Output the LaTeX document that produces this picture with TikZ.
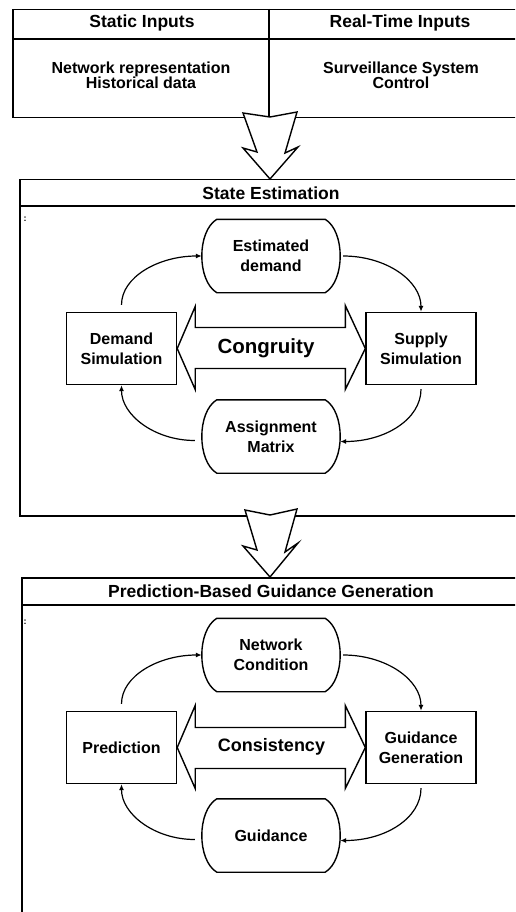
\documentclass[tikz,border=0pt]{standalone}
\usepackage{fontspec}
\setmainfont{Liberation Sans}
\usetikzlibrary{arrows.meta,calc}
\newcommand{\drawbarrel}[1]{%
  \draw[line width=1.4pt]
    ([xshift=15pt]#1.north west) -- ([xshift=-15pt]#1.north east)
    .. controls ([xshift=5pt,yshift=-12pt]#1.north east) and ([xshift=5pt,yshift=12pt]#1.south east) ..
    ([xshift=-15pt]#1.south east) -- ([xshift=15pt]#1.south west)
    .. controls ([xshift=-5pt,yshift=12pt]#1.south west) and ([xshift=-5pt,yshift=-12pt]#1.north west) ..
    cycle;}
\begin{document}
\begin{tikzpicture}[x=1pt,y=-1pt,
  frame/.style={draw, line width=1.5pt, inner sep=0pt, anchor=north west},
  hdr/.style={font=\fontsize{17.5}{19}\selectfont\bfseries, inner sep=0pt},
  txt/.style={font=\fontsize{16}{20}\selectfont\bfseries, align=center, inner sep=0pt},
  toptxt/.style={font=\fontsize{16}{15}\selectfont\bfseries, align=center, inner sep=0pt},
  procbox/.style={draw, line width=1.4pt, minimum width=110pt, minimum height=72pt, txt},
  barrel/.style={minimum width=138pt, minimum height=73pt, txt},
  flow/.style={line width=1.2pt, -{Latex[length=6pt,width=5pt]}},
  bigarrow/.style={draw, line width=1.4pt, line join=miter, fill=white},
  colon/.style={font=\fontsize{9}{9}\selectfont\bfseries, inner sep=0pt}
]
\path[use as bounding box] (0,0) rectangle (515,912);
\clip (0,0) rectangle (515,912);

% ---------- inputs box ----------
\node[frame, minimum width=540pt, minimum height=108pt] (inputs) at (12,9) {};
\draw[line width=1.5pt] ([yshift=-30pt]inputs.north west) -- ([yshift=-30pt]inputs.north east);
\draw[line width=1.5pt] (269,9) -- (269,117);
\node[hdr] (hstat) at (142,23) {Static Inputs};
\node[hdr] (hreal) at (400,23) {Real-Time Inputs};
\node[toptxt] (bstat) at (141,75) {Network representation\\Historical data};
\node[toptxt] (breal) at (401,75) {Surveillance System\\Control};

% ---------- arrow 1 ----------
\draw[bigarrow, shift={(270,179)}] (0,0) -- (-27,-31) -- (-13,-27) -- (-27,-66) -- (0,-62)
  -- (27,-67) -- (15,-26) -- (28,-32) -- cycle;

% ---------- State Estimation ----------
\node[frame, minimum width=540pt, minimum height=336pt] (se) at (19,179) {};
\draw[line width=1.5pt] ([yshift=-27pt]se.north west) -- ([yshift=-27pt]se.north east);
\node[hdr] (setitle) at (271,193) {State Estimation};
\node[colon] (secolon) at (25,219) {:};

\node[barrel] (ed) at (271,256) {Estimated\\demand};
\drawbarrel{ed}
\node[procbox] (ds) at (121.5,348.5) {Demand\\Simulation};
\node[procbox] (ss) at (421,348.5) {Supply\\Simulation};
\node[barrel] (am) at (271,436.5) {Assignment\\Matrix};
\drawbarrel{am}

\draw[bigarrow] (ds.east) -- ($(ds.east)+(18,-42)$) -- ($(ds.east)+(18,-21)$)
  -- ($(ss.west)+(-20,-21)$) -- ($(ss.west)+(-20,-43)$) -- (ss.west)
  -- ($(ss.west)+(-20,41)$) -- ($(ss.west)+(-20,20)$) -- ($(ds.east)+(18,20)$)
  -- ($(ds.east)+(18,41)$) -- cycle;
\node[font=\fontsize{20.5}{24}\selectfont\bfseries, inner sep=0pt] (congr) at (266,348) {Congruity};

\draw[flow] ([yshift=7pt]ds.north) .. controls +(0,-28) and +(-43,0) .. (ed.west);
\draw[flow] ([xshift=3pt]ed.east) .. controls +(43,0) and +(0,-31) .. (ss.north);
\draw[flow] ([yshift=-4pt]ss.south) .. controls +(0,30) and +(45,0) .. ([yshift=-5pt]am.east);
\draw[flow] ([xshift=-7pt,yshift=-4pt]am.west) .. controls +(-40,0) and +(0,30) .. (ds.south);

% ---------- arrow 2 ----------
\draw[bigarrow, shift={(270,577)}] (0,0) -- (-27,-31) -- (-13,-27) -- (-25,-67) -- (0,-62)
  -- (27,-68) -- (15,-25) -- (28,-34) -- cycle;

% ---------- Prediction-Based Guidance Generation ----------
\node[frame, minimum width=540pt, minimum height=400pt] (pg) at (21,577) {};
\draw[line width=1.5pt] ([yshift=-28pt]pg.north west) -- ([yshift=-28pt]pg.north east);
\node[hdr] (pgtitle) at (271,591) {Prediction-Based Guidance Generation};
\node[colon] (pgcolon) at (25,622) {:};

\node[barrel] (nc) at (271,655) {Network\\Condition};
\drawbarrel{nc}
\node[procbox] (pr) at (121.5,747.5) {Prediction};
\node[procbox] (gg) at (421,747.5) {Guidance\\Generation};
\node[barrel] (gd) at (271,835.5) {Guidance};
\drawbarrel{gd}

\draw[bigarrow] (pr.east) -- ($(pr.east)+(18,-42)$) -- ($(pr.east)+(18,-20)$)
  -- ($(gg.west)+(-20,-20)$) -- ($(gg.west)+(-20,-42)$) -- (gg.west)
  -- ($(gg.west)+(-20,41)$) -- ($(gg.west)+(-20,21)$) -- ($(pr.east)+(18,21)$)
  -- ($(pr.east)+(18,41)$) -- cycle;
\node[font=\fontsize{18}{22}\selectfont\bfseries, inner sep=0pt] (consist) at (271.5,747) {Consistency};

\draw[flow] ([yshift=7pt]pr.north) .. controls +(0,-28) and +(-43,0) .. (nc.west);
\draw[flow] ([xshift=3pt]nc.east) .. controls +(43,0) and +(0,-31) .. (gg.north);
\draw[flow] ([yshift=-4pt]gg.south) .. controls +(0,30) and +(45,0) .. ([yshift=-5pt]gd.east);
\draw[flow] ([xshift=-7pt,yshift=-4pt]gd.west) .. controls +(-40,0) and +(0,30) .. (pr.south);
\end{tikzpicture}
\end{document}
